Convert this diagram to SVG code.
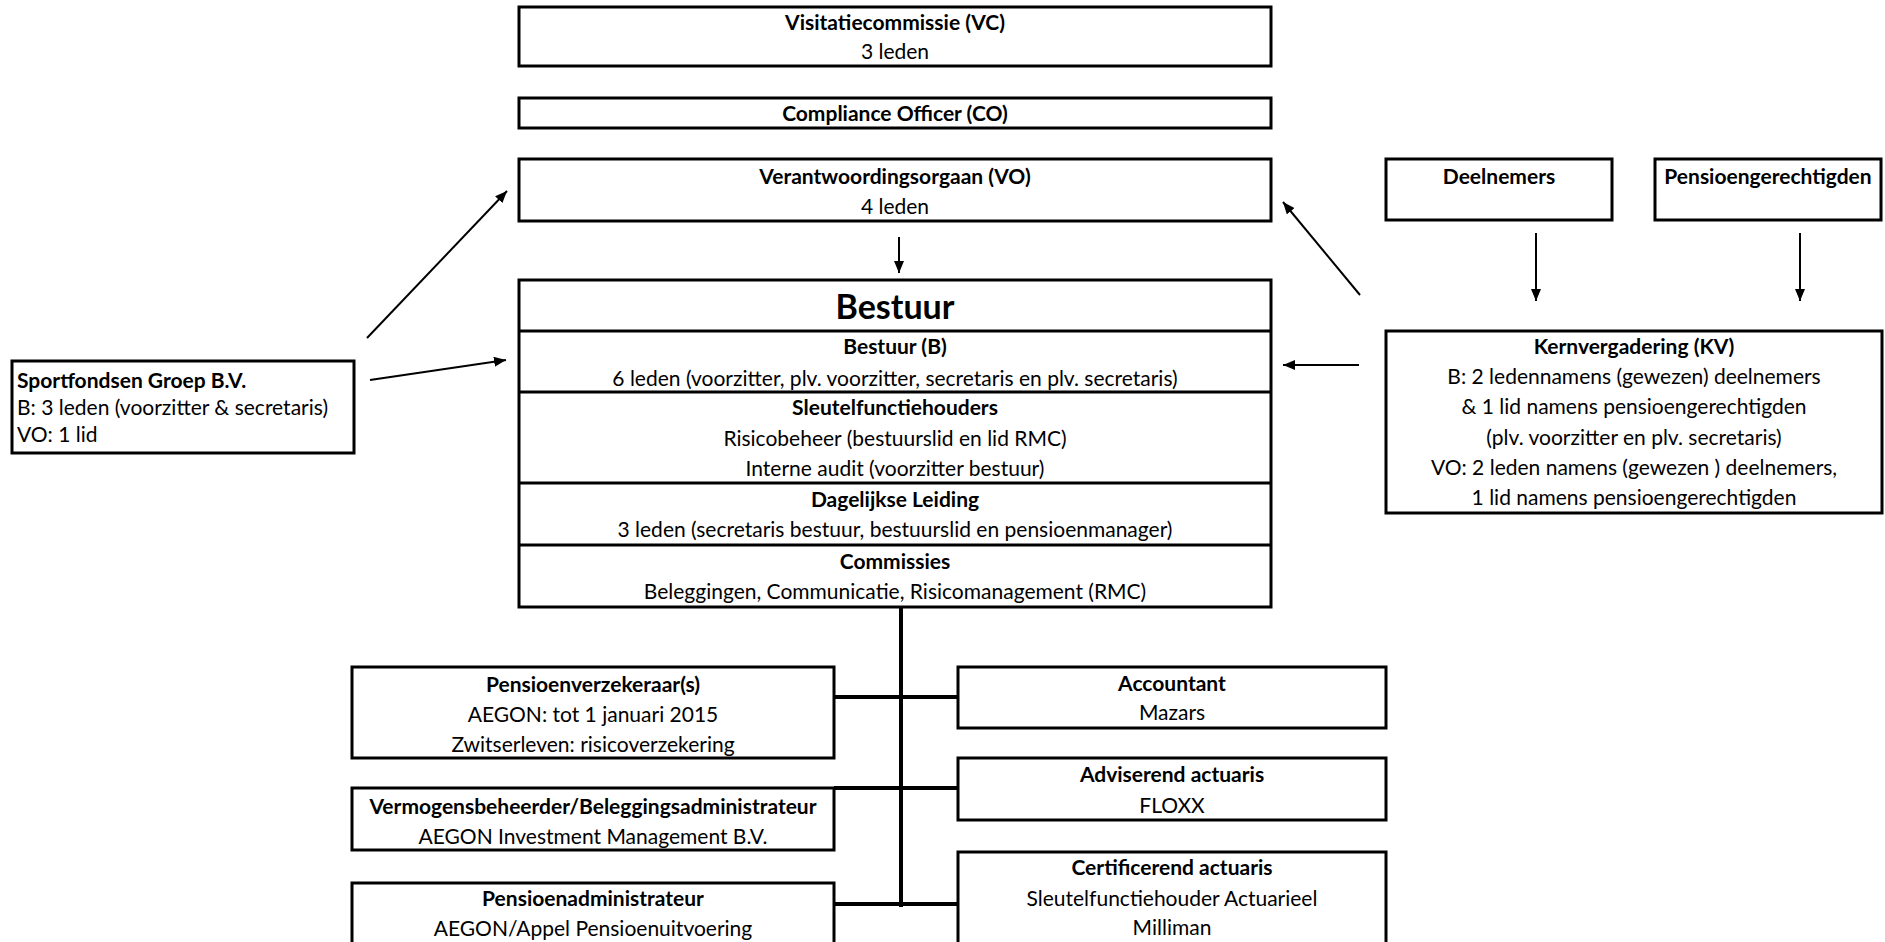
<svg xmlns="http://www.w3.org/2000/svg" width="1885" height="942" viewBox="0 0 1885 942">
<style>
.box{fill:#fff;stroke:#000;stroke-width:3}
.div{stroke:#000;stroke-width:3}
.t{font-family:Lato,"Open Sans",sans-serif;font-size:21px;text-anchor:middle;fill:#000}
.l{text-anchor:start}
.b{font-weight:bold}
.big{font-size:34px}
.arr{stroke:#000;stroke-width:2;fill:none;marker-end:url(#ah)}
.ln{stroke:#000;stroke-width:4;fill:none}
</style>
<defs>
<marker id="ah" markerUnits="userSpaceOnUse" markerWidth="12" markerHeight="10" refX="12" refY="5" orient="auto">
<path d="M0,0 L12,5 L0,10 z" fill="#000"/>
</marker>
</defs>
<rect width="1885" height="942" fill="#fff"/>
<g id="connectors">
<line class="ln" x1="901" y1="608" x2="901" y2="907"/>
<line class="ln" x1="834" y1="697" x2="958" y2="697"/>
<line class="ln" x1="834" y1="788" x2="958" y2="788"/>
<line class="ln" x1="834" y1="904" x2="958" y2="904"/>
<line class="arr" x1="899" y1="237" x2="899" y2="273"/>
<line class="arr" x1="367" y1="338" x2="507" y2="191"/>
<line class="arr" x1="370" y1="380" x2="506" y2="360"/>
<line class="arr" x1="1360" y1="295" x2="1283" y2="202"/>
<line class="arr" x1="1359" y1="365" x2="1283" y2="365"/>
<line class="arr" x1="1536" y1="233" x2="1536" y2="301"/>
<line class="arr" x1="1800" y1="233" x2="1800" y2="301"/>
</g>
<g id="vc">
<rect class="box" x="519" y="7" width="752" height="59"/>
<text class="t b" x="895" y="30">Visitatiecommissie (VC)</text>
<text class="t" x="895" y="59">3 leden</text>
</g>
<g id="co">
<rect class="box" x="519" y="98" width="752" height="30"/>
<text class="t b" x="895" y="121">Compliance Officer (CO)</text>
</g>
<g id="vo">
<rect class="box" x="519" y="159" width="752" height="62"/>
<text class="t b" x="895" y="184">Verantwoordingsorgaan (VO)</text>
<text class="t" x="895" y="214">4 leden</text>
</g>
<g id="bestuur">
<rect class="box" x="519" y="280" width="752" height="327"/>
<line class="div" x1="519" y1="331" x2="1271" y2="331"/>
<line class="div" x1="519" y1="392" x2="1271" y2="392"/>
<line class="div" x1="519" y1="483" x2="1271" y2="483"/>
<line class="div" x1="519" y1="545" x2="1271" y2="545"/>
<text class="t b big" x="895" y="319">Bestuur</text>
<text class="t b" x="895" y="354">Bestuur (B)</text>
<text class="t" x="895" y="386">6 leden (voorzitter, plv. voorzitter, secretaris en plv. secretaris)</text>
<text class="t b" x="895" y="415">Sleutelfunctiehouders</text>
<text class="t" x="895" y="446">Risicobeheer (bestuurslid en lid RMC)</text>
<text class="t" x="895" y="476">Interne audit (voorzitter bestuur)</text>
<text class="t b" x="895" y="507">Dagelijkse Leiding</text>
<text class="t" x="895" y="537">3 leden (secretaris bestuur, bestuurslid en pensioenmanager)</text>
<text class="t b" x="895" y="569">Commissies</text>
<text class="t" x="895" y="599">Beleggingen, Communicatie, Risicomanagement (RMC)</text>
</g>
<g id="sportfondsen">
<rect class="box" x="12" y="361" width="342" height="92"/>
<text class="t l b" x="17" y="388">Sportfondsen Groep B.V.</text>
<text class="t l" x="17" y="415">B: 3 leden (voorzitter &amp; secretaris)</text>
<text class="t l" x="17" y="442">VO: 1 lid</text>
</g>
<g id="deelnemers">
<rect class="box" x="1386" y="159" width="226" height="61"/>
<text class="t b" x="1499" y="184">Deelnemers</text>
</g>
<g id="pensioengerechtigden">
<rect class="box" x="1655" y="159" width="226" height="61"/>
<text class="t b" x="1768" y="184">Pensioengerechtigden</text>
</g>
<g id="kv">
<rect class="box" x="1386" y="331" width="496" height="182"/>
<text class="t b" x="1634" y="354">Kernvergadering (KV)</text>
<text class="t" x="1634" y="384">B: 2 ledennamens (gewezen) deelnemers</text>
<text class="t" x="1634" y="414">&amp; 1 lid namens pensioengerechtigden</text>
<text class="t" x="1634" y="445">(plv. voorzitter en plv. secretaris)</text>
<text class="t" x="1634" y="475">VO: 2 leden namens (gewezen ) deelnemers,</text>
<text class="t" x="1634" y="505">1 lid namens pensioengerechtigden</text>
</g>
<g id="pensioenverzekeraar">
<rect class="box" x="352" y="667" width="482" height="91"/>
<text class="t b" x="593" y="692">Pensioenverzekeraar(s)</text>
<text class="t" x="593" y="722">AEGON: tot 1 januari 2015</text>
<text class="t" x="593" y="752">Zwitserleven: risicoverzekering</text>
</g>
<g id="vermogensbeheerder">
<rect class="box" x="352" y="788" width="482" height="62"/>
<text class="t b" x="593" y="814">Vermogensbeheerder/Beleggingsadministrateur</text>
<text class="t" x="593" y="844">AEGON Investment Management B.V.</text>
</g>
<g id="pensioenadministrateur">
<rect class="box" x="352" y="883" width="482" height="80"/>
<text class="t b" x="593" y="906">Pensioenadministrateur</text>
<text class="t" x="593" y="936">AEGON/Appel Pensioenuitvoering</text>
</g>
<g id="accountant">
<rect class="box" x="958" y="667" width="428" height="61"/>
<text class="t b" x="1172" y="691">Accountant</text>
<text class="t" x="1172" y="720">Mazars</text>
</g>
<g id="adviserend">
<rect class="box" x="958" y="758" width="428" height="62"/>
<text class="t b" x="1172" y="782">Adviserend actuaris</text>
<text class="t" x="1172" y="813">FLOXX</text>
</g>
<g id="certificerend">
<rect class="box" x="958" y="852" width="428" height="100"/>
<text class="t b" x="1172" y="875">Certificerend actuaris</text>
<text class="t" x="1172" y="906">Sleutelfunctiehouder Actuarieel</text>
<text class="t" x="1172" y="935">Milliman</text>
</g>
</svg>
